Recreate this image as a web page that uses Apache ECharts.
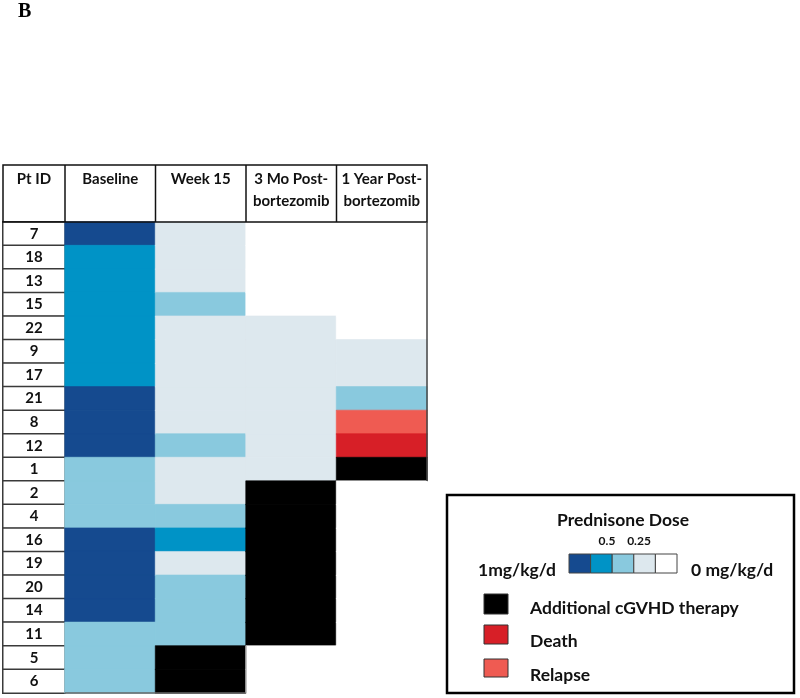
<!DOCTYPE html>
<html>
<head>
<meta charset="utf-8">
<script src="https://cdn.jsdelivr.net/npm/echarts@6/dist/echarts.min.js"></script>
<style>html,body{margin:0;padding:0;background:#fff}#c{width:800px;height:698px}</style>
</head>
<body>
<div id="c"></div>
<script>
// ---- data ----
const ptIds = ['7','18','13','15','22','9','17','21','8','12','1','2','4','16','19','20','14','11','5','6'];
const timepoints = ['Baseline','Week 15','3 Mo Post-\nbortezomib','1 Year Post-\nbortezomib'];
// codes: 4 = 1 mg/kg/d, 3 = 0.5, 2 = 0.25, 1 = low dose, 0 = none,
//        -1 = additional cGVHD therapy, -2 = death, -3 = relapse
const baseline = [4,3,3,3,3,3,3,4,4,4,2,2,2,4,4,4,4,2,2,2];
const week15   = [1,1,1,2,1,1,1,1,1,2,1,1,2,3,1,2,2,2,-1,-1];
const mo3      = [0,0,0,0,1,1,1,1,1,1,1,-1,-1,-1,-1,-1,-1,-1,0,0];
const year1    = [0,0,0,0,0,1,1,2,-3,-2,-1,0,0,0,0,0,0,0,0,0];
const legendDoseLabels = ['0.5','0.25'];

const colorMap = {
  '4':'#154A8F','3':'#0093C6','2':'#89C9DE','1':'#DDE8EE','0':'#FFFFFF',
  '-1':'#000000','-2':'#D71F27','-3':'#EF5B52'
};

const columns = [baseline, week15, mo3, year1];
const cellData = [];
columns.forEach((col, j) => col.forEach((v, i) => cellData.push({
  value: [j, i, v],
  itemStyle: {color: colorMap[String(v)], borderColor: colorMap[String(v)], borderWidth: 0.6}
})));
const idData = ptIds.map((id, i) => [0, i, 0]);

const FONT = 'Lato';
const chart = echarts.init(document.getElementById('c'));

const axisLabelTop = {
  show: true, interval: 0, verticalAlign: 'top', margin: 54,
  fontFamily: FONT, fontWeight: 'bold', fontSize: 15, color: '#111', lineHeight: 22
};

const legendX = 447, legendY = 495;
const LF = 'bold 17.5px ' + FONT;
const graphic = [
  // panel letter
  {type:'text', left: 18, top: 2, style:{text:'B', font:'bold 20px "Liberation Serif"', fill:'#000'}},
  // header box
  {type:'rect', z:100, shape:{x:3,y:165,width:424,height:57}, style:{fill:'none',stroke:'#111',lineWidth:1.5}},
  {type:'line', z:100, shape:{x1:65,y1:165,x2:65,y2:222}, style:{stroke:'#111',lineWidth:1.5}},
  {type:'line', z:100, shape:{x1:155.5,y1:165,x2:155.5,y2:222}, style:{stroke:'#111',lineWidth:1.5}},
  {type:'line', z:100, shape:{x1:246,y1:165,x2:246,y2:222}, style:{stroke:'#111',lineWidth:1.5}},
  {type:'line', z:100, shape:{x1:336.5,y1:165,x2:336.5,y2:222}, style:{stroke:'#111',lineWidth:1.5}},
  // right border of body down to row "1"
  {type:'line', z:100, shape:{x1:427,y1:222,x2:427,y2:481}, style:{stroke:'#444',lineWidth:1.5}},
  // bottom border
  {type:'line', z:100, shape:{x1:65,y1:693,x2:246,y2:693}, style:{stroke:'#666',lineWidth:1.5}},
  {type:'line', z:100, shape:{x1:246,y1:646,x2:246,y2:693}, style:{stroke:'#888',lineWidth:1}},
  // legend box
  {type:'rect', z:100, shape:{x:legendX,y:legendY,width:347,height:198}, style:{fill:'#fff',stroke:'#000',lineWidth:2.5}},
  {type:'text', z:101, style:{text:'Prednisone Dose', x:623, y:520, align:'center', verticalAlign:'middle', font:LF, fill:'#111'}},
  {type:'text', z:101, style:{text:legendDoseLabels[0], x:607, y:541, align:'center', verticalAlign:'middle', font:'bold 12px '+FONT, fill:'#111'}},
  {type:'text', z:101, style:{text:legendDoseLabels[1], x:639, y:541, align:'center', verticalAlign:'middle', font:'bold 12px '+FONT, fill:'#111'}},
  {type:'text', z:101, style:{text:'1mg/kg/d', x:478, y:570, align:'left', verticalAlign:'middle', font:LF, fill:'#111'}},
  {type:'text', z:101, style:{text:'0 mg/kg/d', x:691, y:570, align:'left', verticalAlign:'middle', font:LF, fill:'#111'}},
  {type:'rect', z:101, shape:{x:484,y:594,width:24,height:20}, style:{fill:colorMap['-1'],stroke:'#333',lineWidth:1}},
  {type:'text', z:101, style:{text:'Additional cGVHD therapy', x:530, y:608, align:'left', verticalAlign:'middle', font:LF, fill:'#111'}},
  {type:'rect', z:101, shape:{x:484,y:625,width:24,height:19}, style:{fill:colorMap['-2'],stroke:'#333',lineWidth:1}},
  {type:'text', z:101, style:{text:'Death', x:530, y:641, align:'left', verticalAlign:'middle', font:LF, fill:'#111'}},
  {type:'rect', z:101, shape:{x:484,y:659,width:24,height:18}, style:{fill:colorMap['-3'],stroke:'#333',lineWidth:1}},
  {type:'text', z:101, style:{text:'Relapse', x:530, y:675, align:'left', verticalAlign:'middle', font:LF, fill:'#111'}}
];
// dose scale boxes
[4,3,2,1,0].forEach((v, k) => {
  graphic.push({type:'rect', z:101, shape:{x:569 + k*21.6, y:554, width:21.6, height:19},
    style:{fill:colorMap[String(v)], stroke:'#444', lineWidth:1}});
});

chart.setOption({
  animation: false,
  backgroundColor: '#fff',
  grid: [
    {left: 3, top: 222, width: 62, height: 471},
    {left: 65, top: 222, width: 362, height: 471}
  ],
  xAxis: [
    {gridIndex:0, type:'category', data:['Pt ID'], position:'top',
     axisLine:{show:false}, axisTick:{show:false}, splitLine:{show:false}, axisLabel: axisLabelTop},
    {gridIndex:1, type:'category', data:timepoints, position:'top',
     axisLine:{show:false}, axisTick:{show:false}, splitLine:{show:false}, axisLabel: axisLabelTop}
  ],
  yAxis: [
    {gridIndex:0, type:'category', data:ptIds, inverse:true, show:false},
    {gridIndex:1, type:'category', data:ptIds, inverse:true, show:false}
  ],
  series: [
    {type:'heatmap', xAxisIndex:0, yAxisIndex:0, data:idData,
     itemStyle:{color:'#fff', borderColor:'#3a3a3a', borderWidth:1.5},
     label:{show:true, formatter: p => ptIds[p.data[1]], fontFamily:FONT, fontWeight:'bold', fontSize:15, color:'#111'},
     emphasis:{disabled:true}},
    {type:'heatmap', xAxisIndex:1, yAxisIndex:1, data:cellData, emphasis:{disabled:true}}
  ],
  graphic: graphic
});
</script>
</body>
</html>
